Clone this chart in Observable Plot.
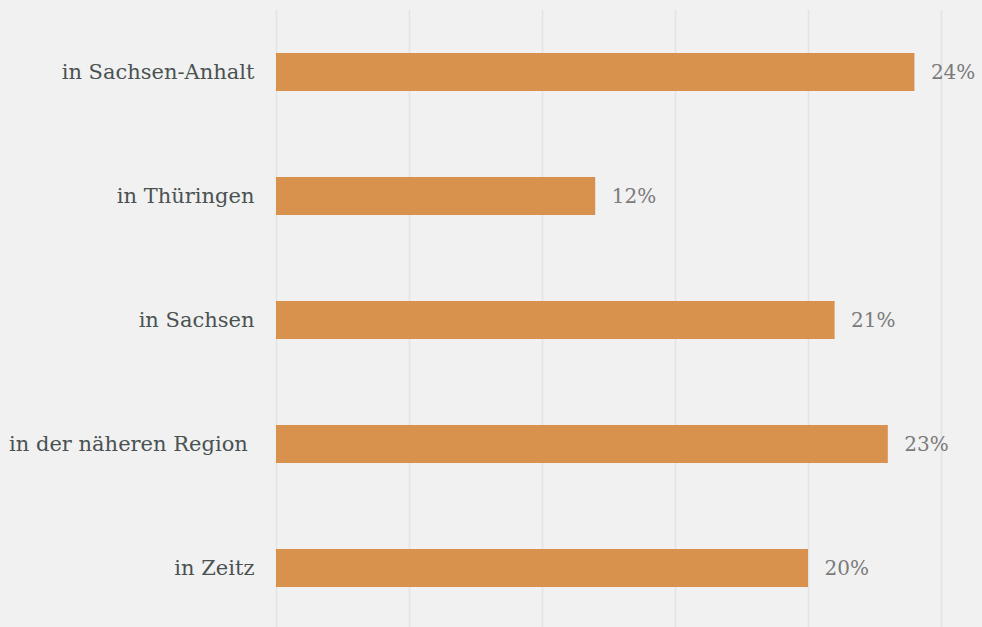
<!DOCTYPE html>
<html>
<head>
<meta charset="utf-8">
<script src="https://cdn.jsdelivr.net/npm/d3@7"></script>
<script src="https://cdn.jsdelivr.net/npm/@observablehq/plot@0.6"></script>
<style>
  html, body { margin: 0; padding: 0; background: #f1f1f1; }
  #chart svg { display: block; }
</style>
</head>
<body>
<div id="chart"></div>
<script>
const categories = ["in Sachsen-Anhalt", "in Thüringen", "in Sachsen", "in der näheren Region\u00a0", "in Zeitz"];
const values = [24, 12, 21, 23, 20];
const ticks = [0, 5, 10, 15, 20, 25];

const data = categories.map((c, i) => ({category: c, value: values[i]}));

const chart = Plot.plot({
  width: 982,
  height: 627,
  marginLeft: 276,
  marginRight: 41,
  marginTop: 10,
  marginBottom: 0,
  style: {background: "#f1f1f1", fontFamily: "'DejaVu Serif', serif"},
  x: {domain: [0, 25], axis: null},
  y: {domain: categories, range: [9, 630], paddingInner: 0.694, paddingOuter: 0.347, axis: null},
  marks: [
    Plot.ruleX(ticks, {stroke: "#e0e4e4", strokeWidth: 1.5}),
    Plot.barX(data, {x: "value", y: "category", fill: "#d8924e"}),
    Plot.text(data, {
      x: "value", y: "category", text: d => d.value + "%",
      textAnchor: "start", dx: 16, fill: "#7b7b7b", fontSize: 20
    }),
    Plot.axisY({tickSize: 0, tickPadding: 22, fontSize: 21, color: "#4a5252", fill: "#4a5252", label: null})
  ]
});
document.getElementById("chart").appendChild(chart);
</script>
</body>
</html>
